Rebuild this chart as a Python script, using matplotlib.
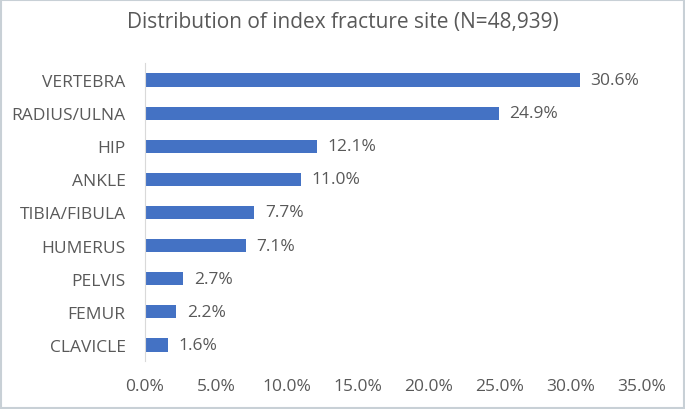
import matplotlib.pyplot as plt
from matplotlib.patches import Rectangle

sites = ['VERTEBRA', 'RADIUS/ULNA', 'HIP', 'ANKLE', 'TIBIA/FIBULA',
         'HUMERUS', 'PELVIS', 'FEMUR', 'CLAVICLE']
pct = [30.6, 24.9, 12.1, 11.0, 7.7, 7.1, 2.7, 2.2, 1.6]
xticks = [0, 5, 10, 15, 20, 25, 30, 35]

plt.rcParams['font.family'] = ['Open Sans', 'DejaVu Sans']
text_col = '#595959'

fig = plt.figure(figsize=(6.85, 4.1), dpi=100)
ax = fig.add_axes([0.2117, 0.1159, 0.7255, 0.7268])

y = list(range(len(sites)))
ax.barh(y, pct, height=0.4, color='#4472C4')
for yi, v in zip(y, pct):
    ax.text(v + 0.75, yi, f'{v:.1f}%', va='center', ha='left',
            fontsize=12.5, color=text_col)

ax.set_ylim(len(sites) - 0.5, -0.5)
ax.set_xlim(0, 35)
ax.set_yticks(y)
ax.set_yticklabels(sites)
ax.set_xticks(xticks)
ax.set_xticklabels([f'{t:.1f}%' for t in xticks])
ax.tick_params(length=0, labelsize=12.5, colors=text_col)
ax.tick_params(axis='x', pad=12)
ax.tick_params(axis='y', pad=14)

for s in ['top', 'right', 'bottom']:
    ax.spines[s].set_visible(False)
ax.spines['left'].set_color('#D9D9D9')

fig.text(0.5, 0.945, 'Distribution of index fracture site (N=48,939)',
         ha='center', va='center', fontsize=15, color=text_col)

fig.patches.append(Rectangle((0.002, 0.003), 0.996, 0.994, transform=fig.transFigure,
                             fill=False, edgecolor='#C8D0D6', linewidth=1.5))

fig.savefig('out.png', dpi=100)
